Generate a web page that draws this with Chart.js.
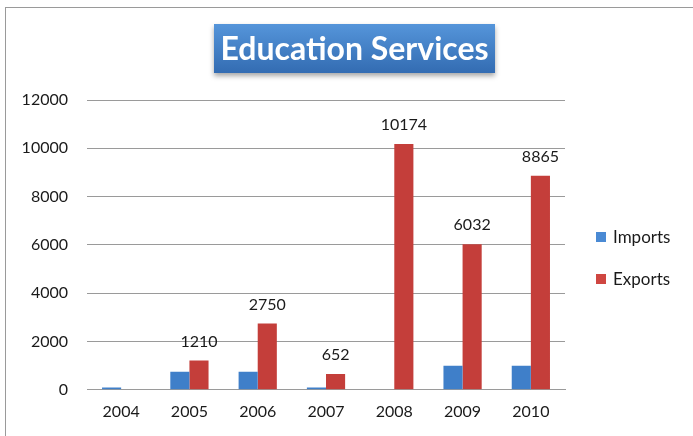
<!DOCTYPE html>
<html>
<head>
<meta charset="utf-8">
<script src="https://cdn.jsdelivr.net/npm/chart.js@4/dist/chart.umd.min.js"></script>
<style>
  html, body { margin: 0; padding: 0; background: #fff; }
  .frame {
    position: absolute; left: 5px; top: 7px; width: 700px; height: 440px;
    border-top: 1px solid #9a9a9a; border-left: 1px solid #9a9a9a;
  }
  .wrap { position: absolute; left: 0; top: 0; width: 693px; height: 436px; }
</style>
</head>
<body>
<div class="frame"></div>
<div class="wrap"><canvas id="chart" width="693" height="436"></canvas></div>
<script>
const years = ['2004', '2005', '2006', '2007', '2008', '2009', '2010'];
const imports = [100, 750, 750, 100, 0, 1000, 1000];
const exports = [0, 1210, 2750, 652, 10174, 6032, 8865];
const yTicks = [0, 2000, 4000, 6000, 8000, 10000, 12000];

const FONT = 'Lato, "Open Sans", sans-serif';
const IMPORT_COLOR = '#4a8ad4';
const EXPORT_COLOR = '#cf4641';

function barGradient(ctx, light, dark) {
    const area = ctx.chart.chartArea;
    if (!area) return dark;
    const el = ctx.element;
    const x0 = el && el.x !== undefined ? el.x - el.width / 2 : area.left;
    const w = el && el.width ? el.width : 20;
    const g = ctx.chart.ctx.createLinearGradient(x0, 0, x0 + w, 0);
    g.addColorStop(0, light);
    g.addColorStop(1, dark);
    return g;
}

// blue banner behind the heading
const banner = {
    id: 'banner',
    afterDraw(chart) {
        const c = chart.ctx;
        const x = 214, y = 24, w = 281, h = 49;
        c.save();
        c.shadowColor = 'rgba(0,0,0,0.35)';
        c.shadowBlur = 5;
        c.shadowOffsetY = 3;
        const g = c.createLinearGradient(0, y, 0, y + h);
        g.addColorStop(0, '#5595da');
        g.addColorStop(1, '#336cb2');
        c.fillStyle = g;
        c.fillRect(x, y, w, h);
        c.restore();
        c.save();
        c.fillStyle = '#ffffff';
        c.font = 'bold 32px ' + FONT;
        c.textAlign = 'center';
        c.textBaseline = 'middle';
        c.fillText('Education Services', x + w / 2, y + h / 2 + 1);
        c.restore();
    }
};

// series key to the right of the plot
const sideLegend = {
    id: 'sideLegend',
    afterDraw(chart) {
        const c = chart.ctx;
        const left = chart.chartArea.right + 31;
        c.save();
        c.font = '17px ' + FONT;
        c.textBaseline = 'middle';
        chart.data.datasets.forEach((ds, i) => {
            const cy = 237 + i * 42;
            c.fillStyle = i === 0 ? IMPORT_COLOR : EXPORT_COLOR;
            c.fillRect(left, cy - 5, 10, 10);
            c.fillStyle = '#1a1a1a';
            c.fillText(ds.label, left + 17, cy + 1);
        });
        c.restore();
    }
};

// value labels above the export bars
const valueLabels = {
    id: 'valueLabels',
    afterDatasetsDraw(chart) {
        const c = chart.ctx;
        const meta = chart.getDatasetMeta(1);
        c.save();
        c.font = '16px ' + FONT;
        c.fillStyle = '#1a1a1a';
        c.textAlign = 'center';
        c.textBaseline = 'middle';
        meta.data.forEach((bar, i) => {
            if (!exports[i]) return;
            c.fillText(String(exports[i]), bar.x, bar.y - 19);
        });
        c.restore();
    }
};

new Chart(document.getElementById('chart'), {
    type: 'bar',
    data: {
        labels: years,
        datasets: [{
            label: 'Imports',
            data: imports,
            backgroundColor: ctx => barGradient(ctx, '#5b9be0', '#3f7fc9')
        }, {
            label: 'Exports',
            data: exports,
            backgroundColor: ctx => barGradient(ctx, '#de5752', '#c43e3a')
        }]
    },
    options: {
        responsive: false,
        animation: false,
        categoryPercentage: 0.56,
        barPercentage: 1,
        layout: { padding: { top: 100, left: 0, right: 128, bottom: 11 } },
        plugins: {
            title: { display: false },
            tooltip: { enabled: false },
            legend: { display: false }
        },
        scales: {
            x: {
                grid: { display: false },
                border: { display: true, color: '#9a9a9a' },
                ticks: { color: '#1a1a1a', padding: 4, font: { family: FONT, size: 16 } }
            },
            y: {
                min: 0,
                max: 12000,
                afterBuildTicks: axis => { axis.ticks = yTicks.map(v => ({ value: v })); },
                afterFit: axis => { axis.width = 87; },
                grid: { color: '#9a9a9a', drawTicks: false },
                border: { display: false },
                ticks: {
                    color: '#1a1a1a',
                    padding: 19,
                    font: { family: FONT, size: 16 },
                    callback: v => String(v)
                }
            }
        }
    },
    plugins: [banner, sideLegend, valueLabels]
});
</script>
</body>
</html>
